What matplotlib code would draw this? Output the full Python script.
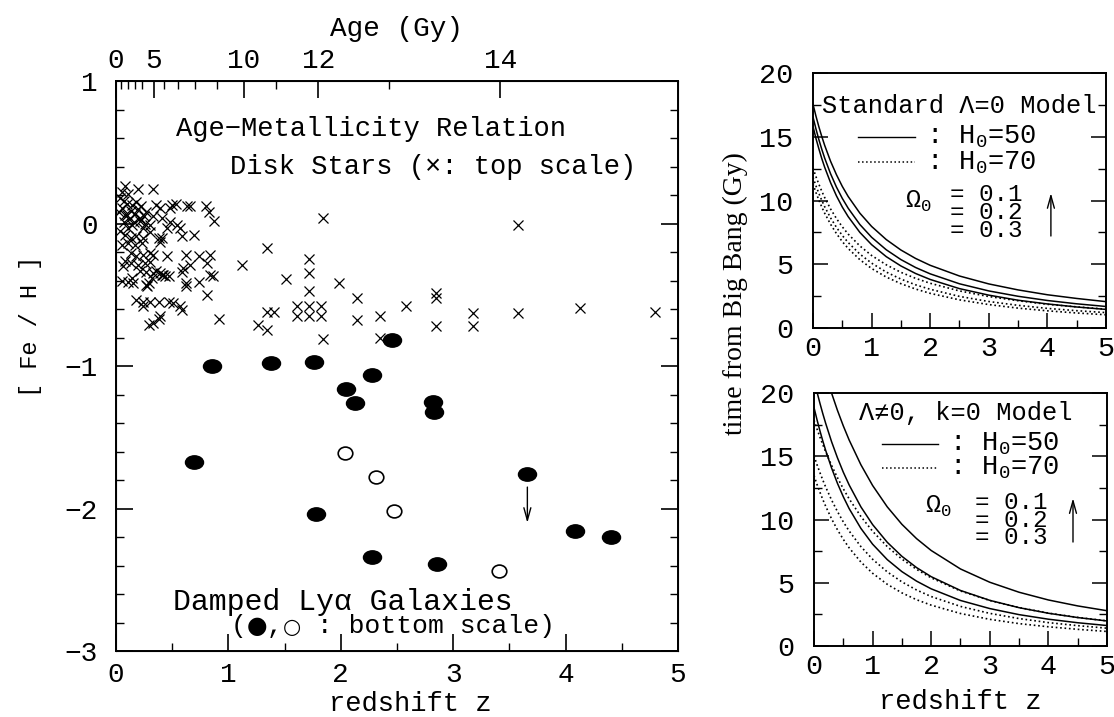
import numpy as np
import matplotlib
matplotlib.use('Agg')
import matplotlib.pyplot as plt
from matplotlib.lines import Line2D
from matplotlib.path import Path
from matplotlib.offsetbox import TextArea, HPacker, AnnotationBbox

plt.rcParams['font.family'] = ['Liberation Mono', 'DejaVu Sans Mono']
plt.rcParams['mathtext.fontset'] = 'custom'
plt.rcParams['mathtext.rm'] = 'Liberation Mono'
plt.rcParams['mathtext.it'] = 'Liberation Mono'
plt.rcParams['mathtext.bf'] = 'Liberation Mono'

# ---------------- data: left panel ----------------
disk_z = [0.08,0.20,0.33,0.05,0.11,0.07,0.10,0.14,0.18,0.22,0.13,0.17,0.20,0.25,0.12,0.16,0.21,0.26,0.10,0.14,
          0.05,0.08,0.07,0.11,0.08,0.13,0.36,0.39,0.48,0.50,0.63,0.33,0.41,0.48,0.54,0.57,0.24,0.30,0.21,0.27,
          0.18,0.24,0.38,0.41,0.59,0.53,0.66,0.80,0.83,0.87,0.45,0.69,0.30,
          0.11,0.17,0.23,0.39,0.13,0.18,0.24,0.30,0.33,0.08,0.13,0.20,0.26,0.30,0.45,0.62,
          0.21,0.27,0.33,0.39,0.42,0.36,0.14,0.11,0.15,0.27,0.29,0.32,0.47,0.59,0.62,
          0.18,0.24,0.30,0.38,0.47,0.51,0.57,0.59,0.24,0.39,
          0.74,0.84,0.81,0.66,0.60,0.84,0.86,0.74,0.62,0.81,0.41,0.44,0.28,0.33,0.38,0.29,0.92,
          0.04,0.04,0.05,0.06,0.05,0.03,
          1.34,1.12,1.72,1.72,1.51,1.84,1.98,1.72,2.14,2.14,1.34,1.41,1.61,1.72,1.82,1.61,1.72,1.82,
          1.26,1.34,1.84,2.35,2.35,2.58,2.85,2.85,2.85,3.18,3.18,3.58,3.58,4.13,4.80]
disk_feh = [0.26,0.24,0.24,0.22,0.21,0.16,0.14,0.13,0.15,0.12,0.09,0.07,0.10,0.05,0.03,0.01,0.02,0.00,0.06,-0.01,
            0.11,0.06,0.01,-0.03,-0.08,-0.10,0.13,0.11,0.11,0.13,0.12,0.05,0.04,0.01,-0.01,-0.03,-0.03,-0.01,0.04,0.08,
            -0.09,-0.10,-0.10,-0.10,-0.09,0.14,0.12,0.12,0.08,0.02,-0.03,-0.08,-0.06,
            -0.14,-0.15,-0.14,-0.13,-0.21,-0.23,-0.22,-0.21,-0.22,-0.26,-0.28,-0.29,-0.28,-0.27,-0.23,-0.22,
            -0.33,-0.34,-0.35,-0.35,-0.36,-0.33,-0.38,-0.41,-0.42,-0.43,-0.42,-0.38,-0.37,-0.34,-0.42,
            -0.54,-0.55,-0.55,-0.55,-0.55,-0.56,-0.58,-0.61,-0.58,-0.65,
            -0.23,-0.22,-0.28,-0.29,-0.31,-0.36,-0.37,-0.41,-0.44,-0.50,-0.36,-0.37,-0.44,-0.70,-0.67,-0.71,-0.67,
            0.18,-0.05,-0.15,-0.30,-0.40,0.08,
            -0.17,-0.29,-0.25,-0.35,-0.39,0.04,-0.42,-0.47,-0.52,-0.68,-0.62,-0.62,-0.58,-0.58,-0.58,-0.65,-0.65,-0.65,
            -0.71,-0.75,-0.81,-0.80,-0.65,-0.58,-0.49,-0.52,-0.72,-0.63,-0.72,-0.63,-0.01,-0.59,-0.62]

dla_filled_z = [0.855,1.375,1.76,2.46,2.28,2.05,2.13,2.82,2.83,0.69,3.66,1.78,4.08,4.40,2.28,2.86]
dla_filled_feh = [-1.00,-0.98,-0.97,-0.82,-1.06,-1.16,-1.26,-1.25,-1.32,-1.67,-1.76,-2.04,-2.16,-2.20,-2.34,-2.39]
dla_open_z = [2.04,2.31,2.47,3.41]
dla_open_feh = [-1.61,-1.78,-2.02,-2.44]
limit_z, limit_feh_from, limit_feh_to = 3.66, -1.83, -2.12

age_major = [0, 5, 10, 12, 14]
age_major_z = [0.0, 0.335, 1.14, 1.80, 3.42]
age_minor_z = [0.047, 0.107, 0.17, 0.23, 0.425, 0.55, 0.70, 0.90, 1.42, 2.43]

# ---------------- data: right panels (time since Big Bang, Gy) ----------------
z_grid = [0,0.05,0.1,0.15,0.2,0.3,0.4,0.5,0.6,0.8,1.0,1.25,1.5,1.75,2.0,2.5,3.0,3.5,4.0,4.5,5.0]
omegas = ['0.1', '0.2', '0.3']
std_h50 = {
    '0.1': [17.56,16.63,15.79,15.02,14.32,13.08,12.03,11.11,10.32,9.01,7.97,6.94,6.12,5.46,4.92,4.08,3.46,2.99,2.61,2.32,2.07],
    '0.2': [16.55,15.63,14.78,14.02,13.32,12.10,11.06,10.17,9.40,8.12,7.12,6.14,5.37,4.75,4.25,3.47,2.91,2.49,2.16,1.90,1.69],
    '0.3': [15.82,14.88,14.06,13.29,12.60,11.40,10.37,9.49,8.74,7.50,6.54,5.60,4.87,4.28,3.81,3.09,2.58,2.18,1.89,1.65,1.46],
}
std_h70 = {
    '0.1': [12.54,11.88,11.28,10.73,10.23,9.34,8.59,7.94,7.37,6.44,5.69,4.96,4.37,3.90,3.51,2.91,2.47,2.14,1.86,1.66,1.48],
    '0.2': [11.82,11.16,10.56,10.01,9.51,8.64,7.90,7.26,6.71,5.80,5.09,4.39,3.84,3.39,3.04,2.48,2.08,1.78,1.54,1.36,1.21],
    '0.3': [11.30,10.63,10.04,9.49,9.00,8.14,7.41,6.78,6.24,5.36,4.67,4.00,3.48,3.06,2.72,2.21,1.84,1.56,1.35,1.18,1.04],
}
lam_h50 = {
    '0.1': [24.99,24.04,23.14,22.29,21.48,19.99,18.63,17.40,16.28,14.33,12.69,11.00,9.62,8.49,7.55,6.09,5.04,4.25,3.64,3.17,2.79],
    '0.2': [21.04,20.10,19.21,18.37,17.59,16.15,14.88,13.74,12.73,11.00,9.60,8.20,7.09,6.20,5.48,4.39,3.61,3.03,2.59,2.25,1.98],
    '0.3': [18.85,17.91,17.03,16.21,15.45,14.07,12.86,11.80,10.86,9.30,8.05,6.83,5.88,5.13,4.52,3.60,2.96,2.48,2.12,1.84,1.62],
}
lam_h70 = {
    '0.1': [17.85,17.17,16.53,15.92,15.34,14.28,13.31,12.43,11.63,10.24,9.07,7.86,6.87,6.06,5.39,4.35,3.60,3.04,2.60,2.26,1.99],
    '0.2': [15.03,14.35,13.72,13.12,12.56,11.54,10.63,9.81,9.09,7.86,6.86,5.86,5.07,4.43,3.91,3.13,2.58,2.17,1.85,1.61,1.41],
    '0.3': [13.47,12.79,12.17,11.58,11.04,10.05,9.19,8.43,7.76,6.64,5.75,4.88,4.20,3.66,3.23,2.57,2.11,1.77,1.52,1.32,1.15],
}

# ---------------- figure ----------------
fig = plt.figure(figsize=(11.14, 7.17), dpi=100)
circ = Path.unit_circle()
ellipse = Path(circ.vertices * np.array([1.0, 0.74]), circ.codes)
ellipse_open = Path(circ.vertices * np.array([1.0, 0.88]), circ.codes)

ax = fig.add_axes([0.1041, 0.092, 0.5045, 0.795])
ax.set_xlim(0, 5); ax.set_ylim(-3, 1)
ax.plot(disk_z, disk_feh, 'x', color='black', ms=7, mew=0.9)
ax.plot(dla_filled_z, dla_filled_feh, linestyle='none', marker=ellipse, color='black', ms=13)
ax.plot(dla_open_z, dla_open_feh, linestyle='none', marker=ellipse_open, mfc='white', mec='black', ms=10.5, mew=1.2)
ax.annotate('', xy=(limit_z, limit_feh_to), xytext=(limit_z, limit_feh_from),
            arrowprops=dict(arrowstyle='->,head_length=0.9,head_width=0.25', lw=1.0, color='black'))
ax.set_xticks(range(6)); ax.set_xticks(np.arange(0, 5.01, 0.5), minor=True)
ax.set_yticks([-3, -2, -1, 0, 1]); ax.set_yticks(np.arange(-3, 1.01, 0.2), minor=True)
ax.tick_params(which='both', direction='in', right=True, top=False, labelsize=20)
ax.tick_params(axis='y', pad=13)
ax.tick_params(axis='x', pad=8)
ax.tick_params(which='major', length=12, width=1.2)
ax.tick_params(which='minor', length=6, width=1)
for s in ax.spines.values():
    s.set_linewidth(1.4)
axt = ax.twiny()
axt.set_xlim(0, 5)
axt.set_xticks(age_major_z); axt.set_xticklabels([str(a) for a in age_major])
axt.set_xticks(age_minor_z, minor=True)
axt.tick_params(which='both', direction='in', labelsize=20, pad=5)
axt.tick_params(which='major', length=12, width=1.2)
axt.tick_params(which='minor', length=6, width=1)
axt.set_xlabel('Age (Gy)', fontsize=20, labelpad=9)
ax.set_xlabel('redshift z', fontsize=19.5, labelpad=2)
ax.xaxis.label.set_x(0.523)
fig.text(0.027, 0.545, '[ Fe / H ]', rotation=90, fontsize=17, ha='center', va='center')
ax.text(0.53, 0.66, 'Age\u2212Metallicity Relation', fontsize=19.5, ha='left', va='center')
ax.text(4.63, 0.40, 'Disk Stars (\u00d7: top scale)', fontsize=19.5, ha='right', va='center')
ax.text(0.51, -2.655, 'Damped Ly\u03b1 Galaxies', fontsize=21.5, ha='left', va='center')
parts = [TextArea('(', textprops=dict(fontsize=19)),
         TextArea('\u25cf', textprops=dict(fontsize=17, family='DejaVu Sans')),
         TextArea(',', textprops=dict(fontsize=19)),
         TextArea('\u25cb', textprops=dict(fontsize=15, family='DejaVu Sans')),
         TextArea(' : bottom scale)', textprops=dict(fontsize=19))]
box = HPacker(children=parts, align='baseline', pad=0, sep=0)
ax.add_artist(AnnotationBbox(box, (1.02, -2.825), xycoords='data', box_alignment=(0, 0.5),
                             frameon=False, pad=0))

def style_right(a):
    a.set_xlim(0, 5); a.set_ylim(0, 20)
    a.set_xticks(range(6)); a.set_xticks(np.arange(0, 5.01, 0.5), minor=True)
    a.set_yticks([0, 5, 10, 15, 20]); a.set_yticks(np.arange(0, 20.01, 2.5), minor=True)
    a.tick_params(which='both', direction='in', right=True, top=False, labelsize=20.5)
    a.tick_params(axis='y', pad=14)
    a.tick_params(axis='x', pad=6)
    a.tick_params(which='major', length=11, width=1.1)
    a.tick_params(which='minor', length=6, width=1)
    for s in a.spines.values():
        s.set_linewidth(1.4)

axA = fig.add_axes([0.7298, 0.5425, 0.263, 0.3556])
axB = fig.add_axes([0.7307, 0.099, 0.263, 0.3529])
for a, h50, h70 in ((axA, std_h50, std_h70), (axB, lam_h50, lam_h70)):
    style_right(a)
    for om in omegas:
        a.plot(z_grid, h50[om], '-', color='black', lw=1.1)
        a.plot(z_grid, h70[om], ':', color='black', lw=1.2)

axA.text(0.15, 17.4, 'Standard \u039b=0 Model', fontsize=18.3, va='center')
axA.add_line(Line2D([0.77, 1.74], [15.0, 15.0], color='black', lw=1))
axA.add_line(Line2D([0.77, 1.74], [13.0, 13.0], color='black', lw=1.1, ls=':'))
axA.text(1.93, 15.0, ': H$_0$=50', fontsize=19.5, va='center')
axA.text(1.93, 13.0, ': H$_0$=70', fontsize=19.5, va='center')
axA.text(1.57, 9.9, '\u03a9$_0$', fontsize=18, va='center')
axA.text(2.34, 9.05, '= 0.1\n= 0.2\n= 0.3', fontsize=17.5, va='center', linespacing=0.72)
axA.annotate('', xy=(4.06, 10.8), xytext=(4.06, 7.0),
             arrowprops=dict(arrowstyle='->,head_length=0.9,head_width=0.25', lw=1.0, color='black'))

axB.text(0.77, 18.4, '\u039b\u22600, k=0 Model', fontsize=18.3, va='center')
axB.add_line(Line2D([1.16, 2.12], [16.0, 16.0], color='black', lw=1))
axB.add_line(Line2D([1.16, 2.12], [14.1, 14.1], color='black', lw=1.1, ls=':'))
axB.text(2.3, 16.0, ': H$_0$=50', fontsize=19.5, va='center')
axB.text(2.3, 14.1, ': H$_0$=70', fontsize=19.5, va='center')
axB.text(1.89, 11.0, '\u03a9$_0$', fontsize=18, va='center')
axB.text(2.75, 9.96, '= 0.1\n= 0.2\n= 0.3', fontsize=17.5, va='center', linespacing=0.72)
axB.annotate('', xy=(4.42, 11.9), xytext=(4.42, 8.0),
             arrowprops=dict(arrowstyle='->,head_length=0.9,head_width=0.25', lw=1.0, color='black'))
axB.set_xlabel('redshift z', fontsize=19.5, labelpad=6)
fig.text(0.66, 0.591, 'time from Big Bang (Gy)', rotation=90, fontsize=20,
         family='Liberation Serif', ha='center', va='center')

fig.savefig('out.png', dpi=100)
